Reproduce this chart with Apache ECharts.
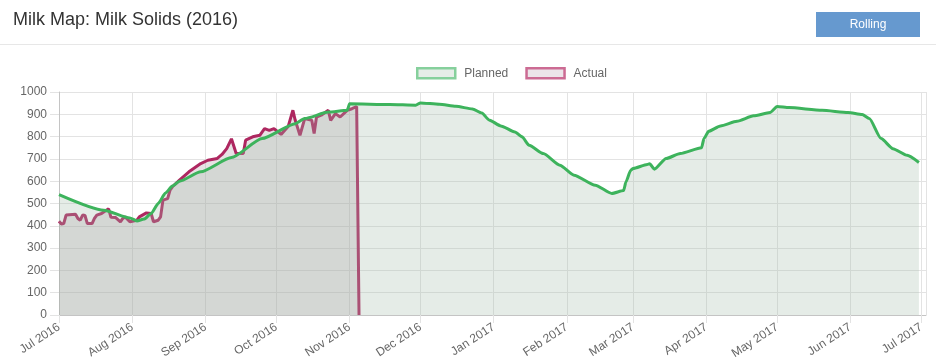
<!DOCTYPE html>
<html>
<head>
<meta charset="utf-8">
<script src="https://cdn.jsdelivr.net/npm/echarts@6/dist/echarts.min.js"></script>
<style>
  html, body { margin: 0; padding: 0; background: #fff; }
  #wrap { position: relative; width: 936px; height: 362px; overflow: hidden; }
  #chart { position: absolute; left: 0; top: 0; width: 936px; height: 362px; }
  #hdr { position: absolute; left: 0; top: 0; width: 936px; height: 44px; border-bottom: 1px solid #e7e7e7; z-index: 2; }
  #title { position: absolute; left: 13px; top: 9px; font-family: 'Liberation Sans', Arial, sans-serif; font-size: 18px; color: #333; }
  #btn { position: absolute; left: 816px; top: 12px; width: 104px; height: 25px; background: #6699cf; color: #fff; font-family: 'Liberation Sans', Arial, sans-serif; font-size: 12px; line-height: 25px; text-align: center; }
</style>
</head>
<body>
<div id="wrap">
  <div id="chart"></div>
  <div id="hdr"><div id="title">Milk Map: Milk Solids (2016)</div><div id="btn">Rolling</div></div>
</div>
<script>
const monthNames = ['Jan','Feb','Mar','Apr','May','Jun','Jul','Aug','Sep','Oct','Nov','Dec'];
const seriesNames = ['Planned', 'Actual'];

const plannedDates = ['2016-07-01','2016-07-20','2016-07-31','2016-08-03','2016-08-06','2016-08-09','2016-08-12','2016-08-15','2016-08-18','2016-08-21','2016-08-30','2016-09-12','2016-09-25','2016-10-09','2016-10-13','2016-10-23','2016-10-31','2016-11-01','2016-11-18','2016-11-29','2016-12-01','2016-12-09','2016-12-16','2016-12-23','2016-12-27','2016-12-30','2017-01-04','2017-01-10','2017-01-13','2017-01-16','2017-01-22','2017-01-29','2017-02-04','2017-02-13','2017-02-20','2017-02-25','2017-02-26','2017-02-28','2017-03-01','2017-03-07','2017-03-08','2017-03-10','2017-03-15','2017-03-21','2017-03-30','2017-03-31','2017-04-02','2017-04-07','2017-04-14','2017-04-21','2017-04-28','2017-05-01','2017-05-06','2017-05-20','2017-05-31','2017-06-06','2017-06-09','2017-06-14','2017-06-19','2017-06-25','2017-06-30'];
const plannedValues = [540,470,435,422,430,455,500,546,578,600,642,706,791,858,881,910,918,947,944,941,951,945,936,924,906,875,848,821,799,761,724,672,627,582,545,558,597,649,657,675,678,654,702,724,750,791,824,848,869,893,908,935,930,918,908,899,881,791,746,716,684];

const actualDates = ['2016-07-01','2016-07-02','2016-07-03','2016-07-04','2016-07-08','2016-07-09','2016-07-10','2016-07-11','2016-07-12','2016-07-13','2016-07-15','2016-07-16','2016-07-17','2016-07-19','2016-07-21','2016-07-22','2016-07-23','2016-07-25','2016-07-27','2016-07-28','2016-07-29','2016-07-31','2016-08-03','2016-08-04','2016-08-07','2016-08-09','2016-08-10','2016-08-12','2016-08-13','2016-08-14','2016-08-16','2016-08-17','2016-08-18','2016-08-21','2016-08-25','2016-08-30','2016-09-02','2016-09-06','2016-09-08','2016-09-10','2016-09-12','2016-09-14','2016-09-17','2016-09-18','2016-09-21','2016-09-24','2016-09-26','2016-09-28','2016-09-30','2016-10-03','2016-10-06','2016-10-08','2016-10-09','2016-10-11','2016-10-13','2016-10-16','2016-10-17','2016-10-18','2016-10-20','2016-10-23','2016-10-24','2016-10-26','2016-10-28','2016-10-31','2016-11-02','2016-11-04','2016-11-05'];
const actualValues = [420,408,410,448,452,433,425,448,446,410,410,433,448,455,470,476,438,437,418,433,440,418,425,440,458,455,418,425,440,515,522,560,575,605,642,679,694,702,720,746,790,724,724,784,799,806,836,828,836,810,845,918,873,806,881,873,814,888,896,918,873,903,888,918,925,935,0];

const axisMin = '2016-07-01';
const axisMax = '2017-07-03';

const chart = echarts.init(document.getElementById('chart'), null, { renderer: 'canvas' });
const fontFam = "'Liberation Sans', Arial, sans-serif";
const DAY = 86400000;

chart.setOption({
  animation: false,
  textStyle: { fontFamily: fontFam },
  legend: {
    left: 411, top: 62,
    itemWidth: 38, itemHeight: 10, itemGap: 17,
    icon: 'rect',
    textStyle: { color: '#666', fontSize: 12, fontFamily: fontFam, padding: [0, 0, 0, 4] },
    data: [
      { name: seriesNames[0], itemStyle: { color: '#e6ede8', borderColor: '#86d09c', borderWidth: 2.5 } },
      { name: seriesNames[1], itemStyle: { color: '#ece4e9', borderColor: '#cc6b93', borderWidth: 2.5 } }
    ]
  },
  grid: { left: 59, right: 10, top: 92, bottom: 47, containLabel: false, outerBoundsMode: 'none' },
  xAxis: {
    type: 'time',
    min: axisMin, max: axisMax,
    splitNumber: 12,
    minInterval: 28 * DAY, maxInterval: 31 * DAY,
    axisLine: { show: true, lineStyle: { color: '#c4c4c4', width: 1 } },
    axisTick: { show: true, length: 8, lineStyle: { color: '#e3e3e3' } },
    splitLine: { show: true, lineStyle: { color: '#e3e3e3', width: 1 } },
    axisLabel: {
      rotate: 33, margin: 11, color: '#666', fontSize: 12, fontFamily: fontFam,
      hideOverlap: false,
      formatter: function (v) { const d = new Date(v); return monthNames[d.getMonth()] + ' ' + d.getFullYear(); }
    }
  },
  yAxis: {
    type: 'value', min: 0, max: 1000, interval: 100,
    axisLine: { show: true, lineStyle: { color: '#c4c4c4', width: 1 } },
    axisTick: { show: true, length: 9, lineStyle: { color: '#e3e3e3' } },
    splitLine: { show: true, lineStyle: { color: '#e3e3e3', width: 1 } },
    axisLabel: { margin: 12, color: '#666', fontSize: 12, fontFamily: fontFam, formatter: function (v) { return String(v); } }
  },
  series: [
    {
      name: seriesNames[1], type: 'line', z: 2, showSymbol: false, symbol: 'none',
      data: actualDates.map((d, i) => [d, actualValues[i]]),
      lineStyle: { color: '#ae2760', width: 3 },
      itemStyle: { color: '#ae2760' },
      areaStyle: { color: 'rgba(175,160,165,0.3)', opacity: 1, origin: 'start' }
    },
    {
      name: seriesNames[0], type: 'line', z: 3, showSymbol: false, symbol: 'none',
      smooth: 0.2, smoothMonotone: 'x',
      data: plannedDates.map((d, i) => [d, plannedValues[i]]),
      lineStyle: { color: '#3db35c', width: 3 },
      itemStyle: { color: '#3db35c' },
      areaStyle: { color: 'rgba(160,185,170,0.28)', opacity: 1, origin: 'start' }
    }
  ]
});
</script>
</body>
</html>
